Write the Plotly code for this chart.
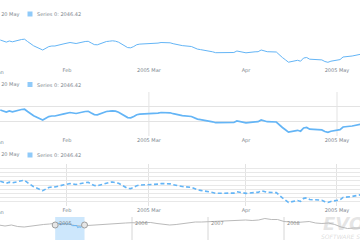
import plotly.graph_objects as go
import pandas as pd

# ---- data -------------------------------------------------------------
series_name = "Series 0"
legend_date = "Fri, 20 May"
last_value = "2046.42"

dates = pd.bdate_range("2005-01-10", "2005-05-09")
values = [
    2190.9, 2183.7, 2169.4, 2180.7, 2172.5,
    2196.0, 2199.1, 2175.6, 2149.0, 2131.6,
    2088.6, 2106.0, 2123.4, 2129.5, 2129.5,
    2152.0, 2160.2, 2165.3, 2160.2, 2155.1,
    2175.6, 2177.6, 2160.2, 2143.9, 2141.8,
    2175.6, 2178.6, 2182.7, 2178.6, 2168.4,
    2113.2, 2111.1, 2124.4, 2142.8, 2149.0,
    2154.1, 2152.0, 2152.0, 2159.2, 2165.3,
    2162.3, 2153.1, 2146.9, 2146.9, 2133.6,
    2124.4, 2110.1, 2097.8, 2092.7, 2088.6,
    2070.2, 2061.0, 2061.0, 2061.0, 2061.0,
    2063.1, 2078.4, 2070.2, 2063.1, 2060.0,
    2070.2, 2071.2, 2088.6, 2080.5, 2071.2,
    2068.2, 2037.5, 2011.9, 1988.4, 1963.9,
    1983.3, 1974.1, 2006.8, 2011.9, 1994.5,
    1989.4, 1987.4, 1971.0, 1962.8, 1974.1,
    1990.5, 2017.0, 2019.1, 2022.2, 2027.3,
    2046.42,
]

tick_dates = ["2005-02-01", "2005-02-28", "2005-04-01", "2005-05-01"]
tick_text = ["Feb", "2005 Mar", "Apr", "2005 May"]
plot2_grid_dates = ["2005-02-28", "2005-05-01"]

scroll_dates = pd.date_range("2004-04-01", "2009-01-01", freq="MS")
scroll_values = [
    2096, 2046, 2096, 2021, 1996, 2046, 2071, 2121, 2146,
    2196, 2146, 2146, 2071, 2046, 2071, 2096, 2121, 2121, 2146, 2171, 2196,
    2211, 2196, 2221, 2221, 2171, 2121, 2096, 2121, 2171, 2221, 2246, 2246,
    2261, 2271, 2271, 2296, 2321, 2321, 2346, 2321, 2346, 2421, 2371, 2371,
    2271, 2246, 2221, 2246, 2271, 2196, 2171, 2196, 2121, 1996, 1921, 1946,
    1946,
]
scroll_years = ["2005-01-01", "2006-01-01", "2007-01-01", "2008-01-01"]
scroll_year_text = ["2005", "2006", "2007", "2008"]
selection = ["2004-12-28", "2005-05-18"]

# ---- style ------------------------------------------------------------
BLUE = "#64b5f6"
GRID = "#e3e3e3"
TXT = "#7c868e"
FONT = "DejaVu Sans"
W, H = 360, 240

def py(p):  # pixel row -> paper y
    return (H - p) / H

x_range = ["2005-01-09 22:00", "2005-05-08 14:00"]
y_range = [1925, 2375]

fig = go.Figure()
fig.add_trace(go.Scatter(x=dates, y=values, mode="lines", xaxis="x", yaxis="y",
                         line=dict(color=BLUE, width=1)))
fig.add_trace(go.Scatter(x=dates, y=values, mode="lines", xaxis="x2", yaxis="y2",
                         line=dict(color=BLUE, width=1.7)))
fig.add_trace(go.Scatter(x=dates, y=values, mode="lines", xaxis="x3", yaxis="y3",
                         line=dict(color=BLUE, width=1.6, dash="4px,2.5px")))
fig.add_trace(go.Scatter(x=scroll_dates, y=scroll_values, mode="lines", xaxis="x4", yaxis="y4",
                         line=dict(color="#bababa", width=1)))
fig.add_trace(go.Scatter(x=dates, y=values, mode="lines", xaxis="x4", yaxis="y4",
                         line=dict(color=BLUE, width=1)))
fig.add_trace(go.Scatter(x=selection, y=[2096, 2096], mode="markers", xaxis="x4", yaxis="y4",
                         marker=dict(symbol="circle", size=6, color="#e6e6e6",
                                     line=dict(color="#9e9e9e", width=1))))

domains = [(py(66), py(22)), (py(136), py(92)), (py(206), py(164))]
xax = dict(range=x_range, type="date", tickmode="array", tickvals=tick_dates,
           ticktext=tick_text, tickfont=dict(family=FONT, size=5, color=TXT),
           ticks="", showline=False, zeroline=False)

layout = dict(width=W, height=H, margin=dict(l=0, r=0, t=0, b=0),
              paper_bgcolor="white", plot_bgcolor="white", showlegend=False)
layout["xaxis"] = dict(xax, anchor="y", showgrid=False)
layout["xaxis2"] = dict(xax, anchor="y2", showgrid=False)
layout["xaxis3"] = dict(xax, anchor="y3", showgrid=True, gridcolor=GRID, gridwidth=1)
layout["yaxis"] = dict(domain=domains[0], range=y_range, showgrid=False, showticklabels=False,
                       zeroline=False, anchor="x")
layout["yaxis2"] = dict(domain=domains[1], range=y_range, showgrid=True, gridcolor=GRID,
                        tick0=1925, dtick=150, showticklabels=False, zeroline=False, anchor="x2")
layout["yaxis3"] = dict(domain=domains[2], range=y_range, showgrid=True, gridcolor="#e8e8e8",
                        tick0=1925, dtick=45, showticklabels=False, zeroline=False, anchor="x3")
layout["xaxis4"] = dict(range=["2004-04-07", "2008-12-31"], type="date", anchor="y4",
                        showgrid=False, showticklabels=False, zeroline=False)
layout["yaxis4"] = dict(domain=(0, py(217)), range=[1346, 2496], showgrid=False,
                        showticklabels=False, zeroline=False, anchor="x4")
fig.update_layout(**layout)

shapes = []
for d in plot2_grid_dates:
    shapes.append(dict(type="line", xref="x2", yref="y2 domain", x0=d, x1=d, y0=0, y1=1,
                       line=dict(color=GRID, width=1), layer="below"))
for d in scroll_years[1:]:
    shapes.append(dict(type="line", xref="x4", yref="y4 domain", x0=d, x1=d, y0=0, y1=1,
                       line=dict(color="#d6d6d6", width=1), layer="below"))
shapes.append(dict(type="rect", xref="x4", yref="y4 domain", x0=selection[0], x1=selection[1],
                   y0=0, y1=1, fillcolor="rgba(100,181,246,0.32)", line=dict(width=0),
                   layer="below"))
legend_rows = [14, 84.5, 155]
for r in legend_rows:
    shapes.append(dict(type="rect", xref="paper", yref="paper", x0=27.5 / W, x1=32.5 / W,
                       y0=py(r + 2.5), y1=py(r - 2.5), fillcolor="#90caf9", line=dict(width=0)))
fig.update_layout(shapes=shapes)

ann = []
for r in legend_rows:
    ann.append(dict(text=legend_date, xref="paper", yref="paper", x=20.5 / W, y=py(r),
                    xanchor="right", yanchor="middle", showarrow=False,
                    font=dict(family=FONT, size=5, color=TXT)))
    ann.append(dict(text=f"{series_name}: {last_value}", xref="paper", yref="paper",
                    x=34.5 / W, y=py(r), xanchor="left", yanchor="middle", showarrow=False,
                    font=dict(family=FONT, size=5, color=TXT)))
for r in [71.5, 142, 212]:
    ann.append(dict(text="Jan", xref="paper", yref="paper", x=-1 / W, y=py(r),
                    xanchor="center", yanchor="middle", showarrow=False,
                    font=dict(family=FONT, size=5, color=TXT)))
for d, t in zip(scroll_years, scroll_year_text):
    ann.append(dict(text=t, xref="x4", yref="paper", x=d, y=py(222.5), xanchor="left",
                    yanchor="middle", xshift=1, showarrow=False,
                    font=dict(family=FONT, size=5, color="#8a8a8a")))
ann.append(dict(text="EVO", xref="paper", yref="paper", x=321 / W, y=py(223), xanchor="left",
                yanchor="middle", showarrow=False,
                font=dict(family=FONT, size=18, color="rgba(180,180,180,0.35)",
                          style="italic", weight="bold")))
ann.append(dict(text="SOFTWARE SOLUTIONS", xref="paper", yref="paper", x=319 / W, y=py(236),
                xanchor="left", yanchor="middle", showarrow=False,
                font=dict(family=FONT, size=6, color="rgba(180,180,180,0.45)",
                          style="italic")))
fig.update_layout(annotations=ann)

fig.write_html("out.html")
